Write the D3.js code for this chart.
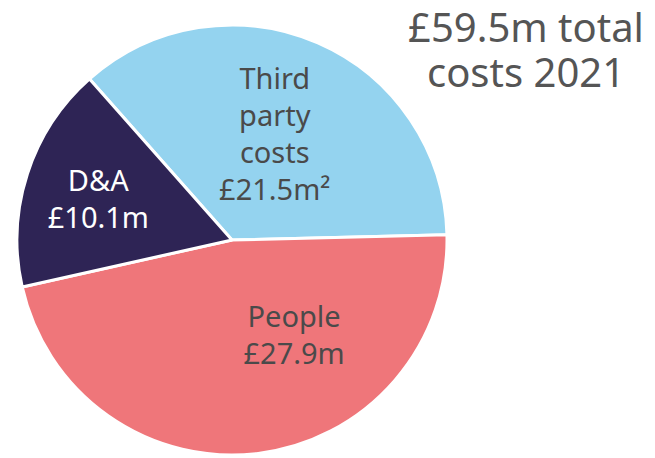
<!DOCTYPE html>
<html>
<head>
<meta charset="utf-8">
<script src="https://cdn.jsdelivr.net/npm/d3@7"></script>
<style>
  html, body { margin: 0; padding: 0; background: #ffffff; }
  svg { display: block; }
  text { font-family: "Noto Sans", "Open Sans", sans-serif; }
</style>
</head>
<body>
<svg id="chart" width="655" height="458"></svg>
<script>
// Cost breakdown, £m, 2021
const categories = ["Third party costs", "People", "D&A"];
const labelLines = [["Third", "party", "costs"], ["People"], ["D&A"]];
const values = [21.5, 27.9, 10.1];
const footnotes = ["²", "", ""];
const colors = ["#94d3ef", "#ef767a", "#2e2455"];
const textColors = ["#4a4a4a", "#4a4a4a", "#ffffff"];
const titleLines = ["£59.5m total", "costs 2021"];

const svg = d3.select("#chart");
const cx = 232, cy = 240, radius = 215;
const deg = Math.PI / 180;

const pie = d3.pie()
  .sort(null)
  .value(d => d)
  .startAngle(-41.5 * deg)
  .endAngle(318.5 * deg);

const arcs = pie(values);
const arc = d3.arc().innerRadius(0).outerRadius(radius);

const g = svg.append("g").attr("transform", `translate(${cx},${cy})`);

g.selectAll("path.slice")
  .data(arcs)
  .join("path")
  .attr("class", "slice")
  .attr("d", arc)
  .attr("fill", (d, i) => colors[i])
  .attr("stroke", "#ffffff")
  .attr("stroke-width", 3)
  .attr("stroke-linejoin", "round");

// label anchor: fraction of radius and angular nudge (degrees) per slice
const labelPlace = [
  { r: 0.53, shift: -1.5 },
  { r: 0.53, shift: -26 },
  { r: 0.65, shift: -1 }
];
const lineH = 37;
const fmt = v => "£" + d3.format(".1f")(v) + "m";

arcs.forEach((a, i) => {
  const ang = (a.startAngle + a.endAngle) / 2 + labelPlace[i].shift * deg;
  const r = radius * labelPlace[i].r;
  const x = Math.sin(ang) * r;
  const y = -Math.cos(ang) * r;
  const lines = labelLines[i].concat([fmt(values[i]) + footnotes[i]]);
  const t = g.append("text")
    .attr("text-anchor", "middle")
    .attr("fill", textColors[i])
    .attr("font-size", 29);
  const y0 = y - (lines.length - 1) * lineH / 2 + 10;
  lines.forEach((ln, k) => {
    t.append("tspan").attr("x", x).attr("y", y0 + k * lineH).text(ln);
  });
});

// title
const title = svg.append("text")
  .attr("text-anchor", "middle")
  .attr("fill", "#555555")
  .attr("font-size", 40);
titleLines.forEach((ln, k) => {
  title.append("tspan").attr("x", 526).attr("y", 42 + k * 45).text(ln);
});
</script>
</body>
</html>
